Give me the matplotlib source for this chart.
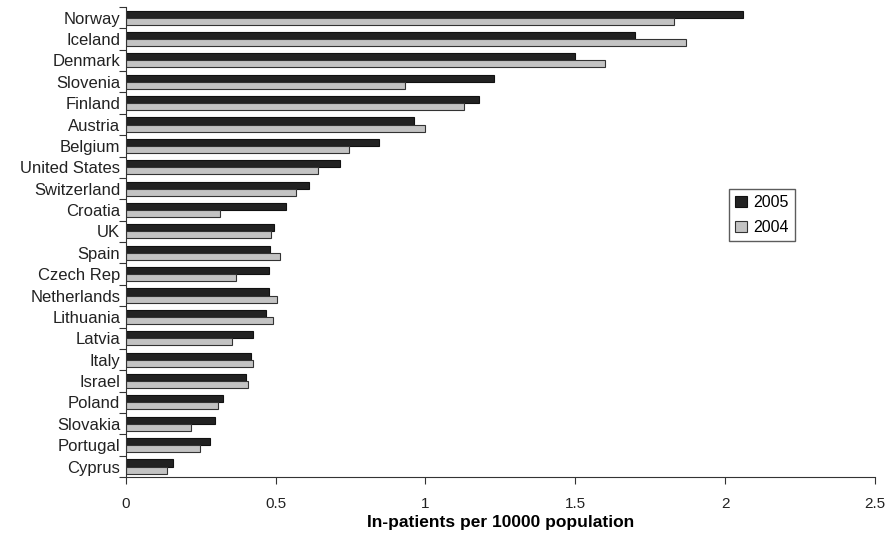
import numpy as np
import matplotlib.pyplot as plt

plt.rcParams['font.family'] = ['Liberation Sans', 'DejaVu Sans']

countries = ["Norway", "Iceland", "Denmark", "Slovenia", "Finland", "Austria",
             "Belgium", "United States", "Switzerland", "Croatia", "UK", "Spain",
             "Czech Rep", "Netherlands", "Lithuania", "Latvia", "Italy", "Israel",
             "Poland", "Slovakia", "Portugal", "Cyprus"]
y2005 = [2.06, 1.70, 1.50, 1.23, 1.18, 0.963, 0.844, 0.715, 0.610, 0.535, 0.494,
         0.481, 0.477, 0.477, 0.469, 0.425, 0.419, 0.400, 0.323, 0.297, 0.282, 0.159]
y2004 = [1.83, 1.87, 1.60, 0.930, 1.13, 1.00, 0.745, 0.640, 0.568, 0.316, 0.486,
         0.514, 0.367, 0.503, 0.491, 0.355, 0.425, 0.407, 0.309, 0.216, 0.248, 0.138]
xticks = [0, 0.5, 1, 1.5, 2, 2.5]
xtick_labels = ["0", "0.5", "1", "1.5", "2", "2.5"]

fig = plt.figure(figsize=(8.92, 5.35), dpi=100)
ax = fig.add_axes([0.141, 0.108, 0.84, 0.879])

n = len(countries)
pos = np.arange(n)
h = 0.33
ax.barh(pos - h / 2, y2005, height=h, color="#222222", edgecolor="#111111",
        linewidth=0.8, label="2005")
ax.barh(pos + h / 2, y2004, height=h, color="#c3c3c3", edgecolor="#333333",
        linewidth=0.8, label="2004")

ax.set_ylim(n - 0.5, -0.5)
ax.set_xlim(0, 2.5)

# tick marks at category boundaries, labels centred
ax.set_yticks(np.arange(n + 1) - 0.5)
ax.set_yticklabels([])
ax.set_yticks(pos, minor=True)
ax.set_yticklabels(countries, minor=True, fontsize=12, color="#222222")
ax.tick_params(axis="y", which="minor", length=0, pad=4)
ax.tick_params(axis="y", which="major", length=5, color="#333333")

ax.set_xticks(xticks)
ax.set_xticklabels(xtick_labels, fontsize=11, color="#222222")
ax.tick_params(axis="x", length=5, color="#333333", pad=9)
ax.set_xlabel("In-patients per 10000 population", fontsize=12.5, fontweight="bold",
              labelpad=3)

for s in ["top", "right"]:
    ax.spines[s].set_visible(False)
for s in ["left", "bottom"]:
    ax.spines[s].set_color("#333333")

leg = ax.legend(loc="upper left", bbox_to_anchor=(0.805, 0.613), borderaxespad=0,
                fontsize=11.5, frameon=True, fancybox=False, handlelength=0.7,
                handleheight=0.7, handletextpad=0.4, borderpad=0.4, labelspacing=0.6)
leg.get_frame().set_edgecolor("#333333")
leg.get_frame().set_linewidth(1.0)

fig.savefig("out.png", dpi=100)
